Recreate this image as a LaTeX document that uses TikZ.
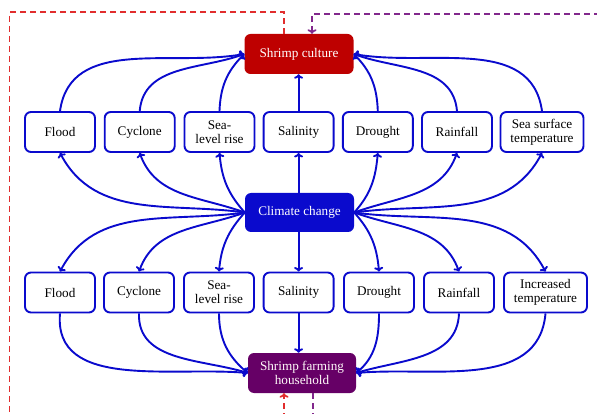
\documentclass[tikz,border=0pt]{standalone}
\usepackage{fontspec}
\setmainfont{Liberation Serif}
\usetikzlibrary{arrows.meta}
\definecolor{cblue}{RGB}{10,10,205}
\definecolor{cred}{RGB}{190,0,0}
\definecolor{cpurple}{RGB}{102,0,102}
\definecolor{dred}{RGB}{225,45,45}
\definecolor{dpurple}{RGB}{130,40,140}
\begin{document}
\begin{tikzpicture}[x=1pt,y=1pt,
  factor/.style={draw=cblue, line width=1.9pt, rounded corners=6pt, fill=white,
    minimum width=70pt, minimum height=40pt, align=center, inner sep=1pt,
    font=\fontsize{13.2}{13.8}\selectfont},
  widefactor/.style={factor, minimum width=83pt},
  mainbox/.style={rounded corners=6pt, minimum width=109pt, minimum height=40pt,
    align=center, inner sep=1pt, font=\fontsize{13.2}{14.5}\selectfont},
  link/.style={draw=cblue, line width=1.9pt, -{To[length=4.5pt,width=9pt]}},
  fb/.style={line width=1.7pt, dash pattern=on 6pt off 4pt, -{To[length=4.5pt,width=9pt]}}
]
\useasboundingbox (0,0) rectangle (597,-414);
\clip (0,0) rectangle (597,-414);

% main boxes
\node[mainbox, fill=cred, text=white] (culture) at (299,-54) {Shrimp culture};
\node[mainbox, fill=cblue, text=white, minimum height=39pt] (cc) at (299.5,-212.5) {Climate change};
\node[mainbox, fill=cpurple, text=white!90!pink, minimum width=108pt] (hh) at (302,-373) {Shrimp farming\\household};

% top row
\node[factor] (t1) at (60,-132) {Flood};
\node[factor] (t2) at (139.7,-132) {Cyclone};
\node[factor] (t3) at (219.5,-132) {Sea-\\level rise};
\node[factor] (t4) at (298.6,-132) {Salinity};
\node[factor] (t5) at (377.8,-132) {Drought};
\node[factor] (t6) at (457,-132) {Rainfall};
\node[widefactor] (t7) at (542,-132) {Sea surface\\temperature};

% bottom row
\node[factor] (b1) at (60,-292.5) {Flood};
\node[factor] (b2) at (139,-292.5) {Cyclone};
\node[factor] (b3) at (219,-292.5) {Sea-\\level rise};
\node[factor] (b4) at (298.6,-292.5) {Salinity};
\node[factor] (b5) at (379,-292.5) {Drought};
\node[factor] (b6) at (459,-292.5) {Rainfall};
\node[widefactor] (b7) at (545.5,-292.5) {Increased\\temperature};

% climate change -> top row
\draw[link] (cc.west) to[out=172,in=-62] (t1.south);
\draw[link] (cc.west) to[out=160,in=-70] (t2.south);
\draw[link] (cc.west) to[out=132,in=-85] (t3.south);
\draw[link] (cc.east) to[out=48,in=-95] (t5.south);
\draw[link] (cc.east) to[out=20,in=-110] (t6.south);
\draw[link] (cc.east) to[out=8,in=-118] (t7.south);
\draw[link] (t4.south |- cc.north) -- (t4.south);

% top row -> shrimp culture
\draw[link] (t1.north) to[out=82,in=190] (culture.west);
\draw[link] (t2.north) to[out=85,in=200] (culture.west);
\draw[link] (t3.north) to[out=88,in=225] (culture.west);
\draw[link] (t5.north) to[out=92,in=-45] (culture.east);
\draw[link] (t6.north) to[out=95,in=-20] (culture.east);
\draw[link] (t7.north) to[out=98,in=-10] (culture.east);
\draw[link] (t4.north) -- (t4.north |- culture.south);

% climate change -> bottom row
\draw[link] (cc.west) to[out=188,in=62] (b1.north);
\draw[link] (cc.west) to[out=200,in=70] (b2.north);
\draw[link] (cc.west) to[out=228,in=85] (b3.north);
\draw[link] (cc.east) to[out=-48,in=95] (b5.north);
\draw[link] (cc.east) to[out=-20,in=110] (b6.north);
\draw[link] (cc.east) to[out=-8,in=118] (b7.north);
\draw[link] (b4.north |- cc.south) -- (b4.north);

% bottom row -> household
\draw[link] (b1.south) to[out=-95,in=175] (hh.west);
\draw[link] (b2.south) to[out=-92,in=163] (hh.west);
\draw[link] (b3.south) to[out=-90,in=140] (hh.west);
\draw[link] (b5.south) to[out=-90,in=40] (hh.east);
\draw[link] (b6.south) to[out=-92,in=17] (hh.east);
\draw[link] (b7.south) to[out=-95,in=5] (hh.east);
\draw[link] (b4.south) -- (b4.south |- hh.north);

% feedback loops
\coordinate (rtl) at (9.6,-12);
\coordinate (rbl) at (9.6,-440);
\coordinate (ptr) at (620,-14);
\coordinate (pbr) at (620,-440);
\draw[fb, draw=dred] ([xshift=-15pt]culture.north) |- (rtl) -- (rbl) -| ([xshift=-18pt]hh.south);
\draw[fb, draw=dpurple] ([xshift=11pt]hh.south) |- (pbr) -- (ptr) -| ([xshift=13pt]culture.north);
\end{tikzpicture}
\end{document}
